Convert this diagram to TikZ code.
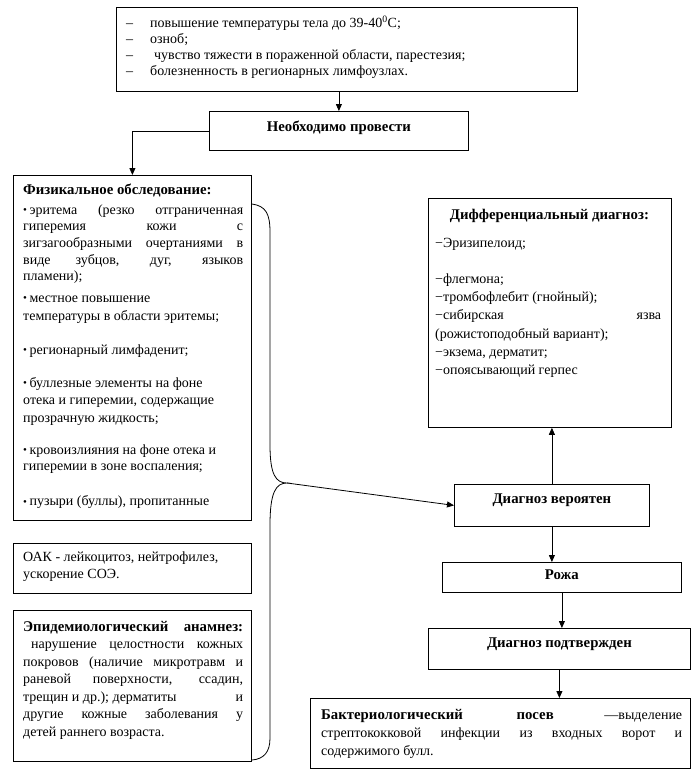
\documentclass[tikz,border=0pt]{standalone}
\usepackage{fontspec}
\setmainfont{Liberation Serif}
\usetikzlibrary{arrows.meta,calc}
\newcommand{\myfsz}[1]{\fontsize{14}{#1}\selectfont}
\newcommand{\bx}[1]{{\fontsize{14.8}{14}\selectfont\bfseries #1}}
\newcommand{\bul}{\raisebox{0.5pt}{\fontsize{11}{11}\selectfont\textbullet}\hspace{2.5pt}}
\newcommand{\jpar}[3]{\begin{minipage}[t]{#1}\myfsz{#2}\hbadness=10000 \parindent=0pt #3\end{minipage}}
\begin{document}
\begin{tikzpicture}[x=1pt,y=-1pt,
  box/.style={draw, line width=0.8pt, inner sep=0pt, anchor=north west},
  txt/.style={anchor=base west, inner sep=0pt},
  ttl/.style={anchor=base, inner sep=0pt, font=\fontsize{14.8}{16}\selectfont\bfseries},
  arr/.style={line width=0.8pt, -{Triangle[length=7pt,width=6pt]}},
  brace/.style={line width=0.8pt}]
\useasboundingbox (0,0) rectangle (700,782);
\fill[white] (0,0) rectangle (700,782);

% boxes
\node[box, minimum width=461pt, minimum height=84pt] (top) at (116,7) {};
\node[box, minimum width=259pt, minimum height=39pt] (nb) at (209,111) {};
\node[box, minimum width=238pt, minimum height=345pt] (fiz) at (13,175) {};
\node[box, minimum width=243pt, minimum height=229pt] (diff) at (428,198) {};
\node[box, minimum width=195pt, minimum height=42pt] (ver) at (454,484) {};
\node[box, minimum width=238pt, minimum height=50pt] (oak) at (13,543) {};
\node[box, minimum width=238pt, minimum height=151pt] (epid) at (13,610) {};
\node[box, minimum width=239pt, minimum height=30pt] (roz) at (442,562) {};
\node[box, minimum width=262pt, minimum height=41pt] (pod) at (428,628) {};
\node[box, minimum width=380pt, minimum height=70pt] (bakt) at (310,698) {};

% top box text
\node[txt] (toptxt) at (126,27.5) {\jpar{440pt}{16.1}{%
\makebox[24pt][l]{–}повышение температуры тела до 39-40\textsuperscript{0}С;\\
\makebox[24pt][l]{–}озноб;\\
\makebox[24pt][l]{–}\hspace{4pt}чувство тяжести в пораженной области, парестезия;\\
\makebox[24pt][l]{–}болезненность в регионарных лимфоузлах.}};

% titles of small boxes
\node[ttl] (nbt) at ([yshift=-20pt]nb.north) {Необходимо провести};
\node[ttl] (vert) at ([yshift=-19.5pt]ver.north) {Диагноз вероятен};
\node[ttl] (rozt) at ([yshift=-17.5pt]roz.north) {Рожа};
\node[ttl] (podt) at ([yshift=-19.5pt]pod.north) {Диагноз подтвержден};

% physical examination
\node[txt] (f0) at (23,194) {\jpar{220pt}{16.7}{\bx{Физикальное обследование:}}};
\node[txt] (f1) at (23,214) {\jpar{220pt}{16.7}{\bul эритема (резко отграниченная\linebreak
гиперемия кожи с\linebreak зигзагообразными очертаниями в\linebreak
виде зубцов, дуг, языков\linebreak пламени);}};
\node[txt] (f2) at (23,302) {\jpar{220pt}{18.5}{\bul местное повышение\\ температуры в области эритемы;}};
\node[txt] (f3) at (23,354) {\jpar{220pt}{17.5}{\bul регионарный лимфаденит;}};
\node[txt] (f4) at (23,387) {\jpar{220pt}{17.5}{\bul буллезные элементы на фоне\\ отека и гиперемии, содержащие\\ прозрачную жидкость;}};
\node[txt] (f5) at (23,454) {\jpar{220pt}{16.7}{\bul кровоизлияния на фоне отека и\\ гиперемии в зоне воспаления;}};
\node[txt] (f6) at (23,505.5) {\jpar{220pt}{16.7}{\bul пузыри (буллы), пропитанные}};

% differential diagnosis
\node[ttl] (difft) at (549.5,219) {Дифференциальный диагноз:};
\node[txt] (diffl) at (435,247) {\jpar{226pt}{18.2}{−Эризипелоид;\\[18.2pt]
−флегмона;\\ −тромбофлебит (гнойный);\\ −сибирская язва\linebreak (рожистоподобный вариант);\\
−экзема, дерматит;\\ −опоясывающий герпес}};

% OAK
\node[txt] (oakt) at (23,561) {\jpar{226pt}{17}{ОАК - лейкоцитоз, нейтрофилез,\\ ускорение СОЭ.}};

% epidemiological
\node[txt] (epidt) at (23,631) {\jpar{220pt}{17.5}{\bx{Эпидемиологический анамнез:}\linebreak
\hspace*{8pt}нарушение целостности кожных\linebreak покровов (наличие микротравм и\linebreak
раневой поверхности, ссадин,\linebreak трещин и др.); дерматиты\hfill и\linebreak
другие кожные заболевания у\linebreak детей раннего возраста.}};

% bacteriological
\node[txt] (baktt) at (321,719) {\jpar{361pt}{18.3}{\bx{Бактериологический посев} —выделение\linebreak
стрептококковой инфекции из входных ворот и\linebreak содержимого булл.}};

% brace
\coordinate (tip) at (287,483);
\draw[brace] (252,204) .. controls (266,206) and (270,214) .. (270,232)
  -- (270,445) .. controls (270,475) and (276,483) .. (tip)
  .. controls (276,483) and (270,492) .. (270,525)
  -- (270,738) .. controls (270,752) and (264,759) .. (252,760);

% connectors
\draw[arr] (top.south -| nb.north) -- (nb.north);
\draw[arr] (nb.west) -| (fiz.north);
\draw[arr] (tip) -- (ver.west);
\draw[arr] (ver.north) -- (ver.north |- diff.south);
\draw[arr] (ver.south) -- (ver.south |- roz.north);
\draw[arr] (roz.south) -- (roz.south |- pod.north);
\draw[arr] (pod.south) -- (pod.south |- bakt.north);
\end{tikzpicture}
\end{document}
